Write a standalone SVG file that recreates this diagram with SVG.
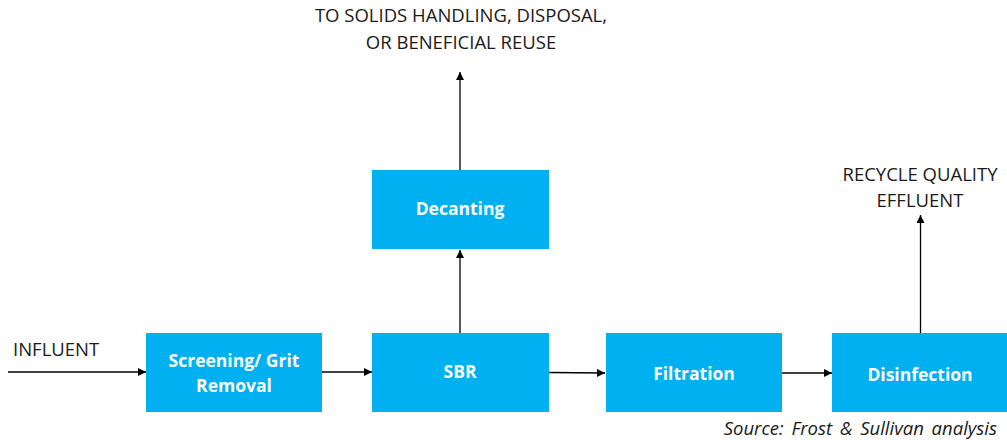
<svg xmlns="http://www.w3.org/2000/svg" width="1007" height="440" viewBox="0 0 1007 440">
<defs>
<marker id="ah" viewBox="0 0 10 10" refX="10" refY="5" markerWidth="8" markerHeight="8" markerUnits="userSpaceOnUse" orient="auto">
<path d="M0,0 L10,5 L0,10 z" fill="#000"/>
</marker>
<style>
.box{fill:#00B0F0;}
.bt{font-family:"Open Sans","Liberation Sans",sans-serif;font-weight:bold;font-size:17.5px;fill:#fff;text-anchor:middle;}
.lt{font-family:"Open Sans","Liberation Sans",sans-serif;font-size:18.5px;fill:#1a1a1a;}
.c{stroke:#000;stroke-width:1.3;fill:none;marker-end:url(#ah);}
</style>
</defs>
<rect width="1007" height="440" fill="#fff"/>
<g id="connectors">
<line class="c" x1="8" y1="372" x2="146" y2="372"/>
<line class="c" x1="322" y1="372" x2="372" y2="372"/>
<line class="c" x1="549" y1="372.5" x2="605" y2="373"/>
<line class="c" x1="782" y1="373" x2="832" y2="373"/>
<line class="c" x1="460" y1="333" x2="460" y2="250"/>
<line class="c" x1="460" y1="170" x2="460" y2="72"/>
<line class="c" x1="920.5" y1="333" x2="920.5" y2="215"/>
</g>
<g id="screening">
<rect class="box" x="146" y="333" width="176" height="79"/>
<text class="bt" x="234" y="367">Screening/ Grit</text>
<text class="bt" x="234" y="392">Removal</text>
</g>
<g id="sbr">
<rect class="box" x="372" y="333" width="177" height="79"/>
<text class="bt" x="460" y="378">SBR</text>
</g>
<g id="filtration">
<rect class="box" x="606" y="333" width="176" height="79"/>
<text class="bt" x="694" y="380">Filtration</text>
</g>
<g id="disinfection">
<rect class="box" x="832" y="333" width="176" height="79"/>
<text class="bt" x="920" y="381">Disinfection</text>
</g>
<g id="decanting">
<rect class="box" x="372" y="170" width="177" height="79"/>
<text class="bt" x="460" y="215">Decanting</text>
</g>
<g id="labels">
<text class="lt" x="461" y="22" text-anchor="middle">TO SOLIDS HANDLING, DISPOSAL,</text>
<text class="lt" x="461" y="49" text-anchor="middle">OR BENEFICIAL REUSE</text>
<text class="lt" x="920" y="181" text-anchor="middle">RECYCLE QUALITY</text>
<text class="lt" x="920" y="207" text-anchor="middle">EFFLUENT</text>
<text class="lt" x="13" y="356">INFLUENT</text>
<text class="lt" x="997" y="435" text-anchor="end" font-style="italic" font-size="19" word-spacing="3">Source: Frost &amp; Sullivan analysis</text>
</g>
</svg>
